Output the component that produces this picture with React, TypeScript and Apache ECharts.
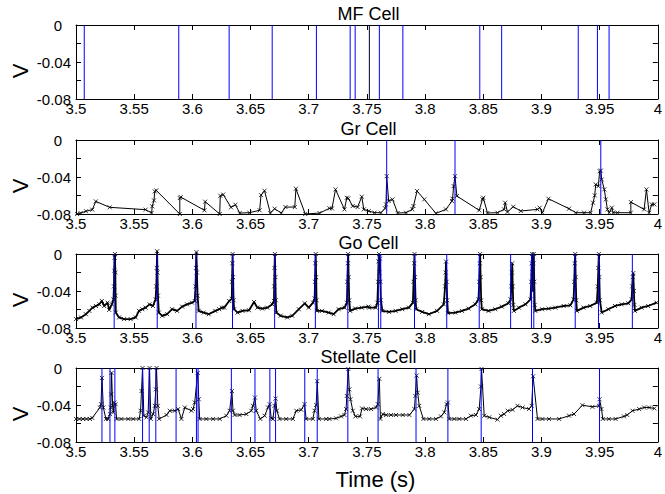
import React, { useEffect, useRef } from "react";
import * as echarts from "echarts";

const panelTitles = ["MF Cell", "Gr Cell", "Go Cell", "Stellate Cell"];

const mfSpikes = [3.5071, 3.5883, 3.6316, 3.6686, 3.7066, 3.7356, 3.7399, 3.7607, 3.7809, 3.847, 3.8658, 3.9316, 3.9481, 3.9581];
const mfBlackSpikes = [3.7521];

const grSpikes = [3.767, 3.8257, 3.951];
const grTrace: [number, number][] = [
  [3.501,-0.08],[3.504,-0.079],[3.5086,-0.077],[3.514,-0.0753],[3.517,-0.0664],[3.529,-0.0728],[3.5598,-0.0753],[3.565,-0.0789],[3.5655,-0.0717],[3.567,-0.0653],[3.5677,-0.0556],[3.569,-0.0545],[3.5892,-0.08],[3.5892,-0.0628],[3.59,-0.0617],[3.6104,-0.076],[3.611,-0.0667],[3.6235,-0.08],[3.624,-0.0603],[3.6265,-0.059],[3.6332,-0.0728],[3.637,-0.07],[3.6407,-0.079],[3.649,-0.0786],[3.6578,-0.076],[3.659,-0.0596],[3.662,-0.0549],[3.667,-0.079],[3.6707,-0.0743],[3.6764,-0.079],[3.68,-0.0725],[3.688,-0.0725],[3.689,-0.0527],[3.697,-0.08],[3.7093,-0.079],[3.7178,-0.0739],[3.72,-0.074],[3.723,-0.0534],[3.7307,-0.075],[3.7327,-0.0624],[3.734,-0.0631],[3.7378,-0.0714],[3.742,-0.0725],[3.7456,-0.0613],[3.7473,-0.075],[3.7516,-0.0768],[3.7565,-0.0786],[3.7621,-0.0786],[3.7656,-0.0739],[3.7664,-0.0696],[3.767,-0.0391],[3.7687,-0.066],[3.772,-0.0642],[3.7764,-0.0789],[3.7836,-0.0786],[3.789,-0.075],[3.79,-0.0714],[3.7931,-0.0552],[3.7993,-0.0642],[3.8093,-0.0793],[3.8179,-0.075],[3.8231,-0.066],[3.8236,-0.0635],[3.8245,-0.0499],[3.8257,-0.0391],[3.8273,-0.0606],[3.8465,-0.076],[3.8493,-0.0642],[3.85,-0.0624],[3.8536,-0.0789],[3.8622,-0.0786],[3.8679,-0.075],[3.8688,-0.0678],[3.8708,-0.0778],[3.8757,-0.0721],[3.8822,-0.0768],[3.8965,-0.075],[3.8985,-0.0732],[3.9008,-0.0786],[3.906,-0.0635],[3.9237,-0.0743],[3.9295,-0.0786],[3.9366,-0.0786],[3.9423,-0.0786],[3.9443,-0.0678],[3.9458,-0.0599],[3.9466,-0.0481],[3.9489,-0.0499],[3.95,-0.0337],[3.951,-0.033],[3.9518,-0.0427],[3.954,-0.0534],[3.9553,-0.0642],[3.9567,-0.075],[3.9582,-0.0786],[3.9605,-0.0732],[3.9616,-0.0786],[3.9653,-0.0786],[3.9768,-0.0786],[3.9768,-0.0671],[3.9882,-0.075],[3.9902,-0.0534],[3.9925,-0.0786],[3.9948,-0.0696],[3.997,-0.0696]
];

const goSpikes = [3.5328, 3.5698, 3.6031, 3.6345, 3.6707, 3.7057, 3.7336, 3.7599, 3.7619, 3.7909, 3.8186, 3.8465, 3.8735, 3.8914, 3.8934, 3.929, 3.949, 3.9781];
const goTrace: [number, number][] = [
  [3.5,-0.0704],[3.5043,-0.0686],[3.5085,-0.0651],[3.5114,-0.0615],[3.5142,-0.058],[3.5171,-0.0562],[3.52,-0.0544],[3.5222,-0.0508],[3.5242,-0.0562],[3.5271,-0.0526],[3.5285,-0.0604],[3.5308,-0.0544],[3.5322,-0.0491],
  [3.5326,-0.035],[3.5329,-0.018],[3.5332,-0.004],[3.5335,0],[3.5338,-0.02],[3.534,-0.045],
  [3.5342,-0.0633],[3.537,-0.0686],[3.5413,-0.0704],[3.547,-0.0704],[3.5513,-0.0686],[3.5541,-0.0615],[3.557,-0.0597],[3.5598,-0.058],[3.5632,-0.0544],[3.5661,-0.0562],[3.5684,-0.0491],
  [3.569,-0.035],[3.5694,-0.015],[3.5697,0.003],[3.57,-0.02],[3.5704,-0.045],
  [3.5712,-0.0633],[3.5741,-0.0668],[3.5783,-0.0651],[3.5826,-0.0597],[3.5869,-0.0615],[3.5912,-0.0569],[3.5954,-0.0544],[3.5997,-0.0526],[3.602,-0.0508],
  [3.6027,-0.035],[3.6031,-0.015],[3.6035,0.002],[3.6039,-0.02],[3.6045,-0.045],
  [3.6054,-0.0615],[3.6097,-0.0633],[3.614,-0.0651],[3.6197,-0.0615],[3.6231,-0.0597],[3.6254,-0.058],[3.6274,-0.058],[3.6316,-0.0508],[3.6339,-0.0484],
  [3.6341,-0.03],[3.6344,-0.01],[3.6346,0],[3.635,-0.025],[3.6354,-0.05],
  [3.6359,-0.0597],[3.6388,-0.0633],[3.643,-0.0615],[3.6487,-0.0608],[3.653,-0.0519],[3.6559,-0.058],[3.6601,-0.059],[3.6644,-0.058],[3.6687,-0.0544],[3.6701,-0.0508],
  [3.6703,-0.035],[3.6706,-0.015],[3.6709,0],[3.6713,-0.025],[3.6717,-0.05],
  [3.6721,-0.0633],[3.6758,-0.0668],[3.6815,-0.0686],[3.6858,-0.0668],[3.6915,-0.0597],[3.6966,-0.0533],[3.7,-0.058],[3.7037,-0.0526],[3.7051,-0.048],
  [3.7054,-0.03],[3.7057,-0.01],[3.706,0],[3.7064,-0.025],[3.7067,-0.05],
  [3.7071,-0.0615],[3.7114,-0.0615],[3.7171,-0.0633],[3.7214,-0.0651],[3.7257,-0.0597],[3.7308,-0.058],[3.7328,-0.0526],
  [3.7332,-0.03],[3.7336,-0.01],[3.7339,0],[3.7343,-0.025],[3.7348,-0.05],
  [3.7356,-0.0615],[3.7399,-0.059],[3.7456,-0.058],[3.7513,-0.0569],[3.7519,-0.058],[3.7576,-0.058],[3.759,-0.0526],
  [3.7596,-0.03],[3.76,-0.008],[3.7604,0],[3.7608,-0.02],[3.7612,-0.005],[3.7616,-0.03],[3.762,-0.05],
  [3.7633,-0.0615],[3.769,-0.0626],[3.7747,-0.0615],[3.7804,-0.0597],[3.7861,-0.058],[3.7895,-0.0526],
  [3.7901,-0.03],[3.7906,-0.01],[3.7909,0],[3.7913,-0.025],[3.7918,-0.05],
  [3.7924,-0.0597],[3.7975,-0.0626],[3.8032,-0.0651],[3.8103,-0.0615],[3.816,-0.0544],
  [3.8172,-0.035],[3.8177,-0.02],[3.818,-0.0082],[3.8185,-0.03],[3.819,-0.05],
  [3.8197,-0.064],[3.826,-0.0633],[3.8317,-0.0615],[3.8374,-0.059],[3.8431,-0.0544],[3.8459,-0.049],
  [3.8465,-0.03],[3.847,-0.01],[3.8473,0],[3.8477,-0.025],[3.8482,-0.05],
  [3.8488,-0.0597],[3.8545,-0.0615],[3.8602,-0.0597],[3.8659,-0.0569],[3.8716,-0.0533],[3.8735,-0.0491],
  [3.8741,-0.035],[3.8746,-0.02],[3.8749,-0.01],[3.8753,-0.035],[3.8758,-0.055],
  [3.8763,-0.0615],[3.8806,-0.058],[3.8863,-0.0544],[3.8906,-0.0491],
  [3.8912,-0.03],[3.8916,-0.01],[3.892,0],[3.8924,-0.02],[3.8928,-0.04],[3.8931,-0.01],[3.8934,0],[3.8938,-0.03],[3.8942,-0.055],
  [3.8948,-0.0615],[3.9005,-0.0597],[3.9062,-0.059],[3.9119,-0.058],[3.9191,-0.0562],[3.9248,-0.0555],[3.9276,-0.049],
  [3.9282,-0.03],[3.9286,-0.01],[3.929,0],[3.9294,-0.025],[3.9299,-0.05],
  [3.9305,-0.0615],[3.9362,-0.058],[3.9419,-0.0562],[3.9476,-0.0526],
  [3.9484,-0.035],[3.9489,-0.015],[3.9493,0],[3.9497,-0.025],[3.9502,-0.05],
  [3.9518,-0.0633],[3.9575,-0.0597],[3.9632,-0.0562],[3.9689,-0.0544],[3.9746,-0.0533],[3.9775,-0.049],
  [3.978,-0.035],[3.9785,-0.025],[3.9789,-0.0206],[3.9794,-0.04],[3.9799,-0.055],
  [3.9803,-0.0615],[3.986,-0.058],[3.9917,-0.0562],[3.9989,-0.0526]
];

const stSpikes = [3.5223, 3.5292, 3.5334, 3.5572, 3.5629, 3.5686, 3.586, 3.6035, 3.6049, 3.6335, 3.6538, 3.6666, 3.6715, 3.6966, 3.7073, 3.7336, 3.7596, 3.7922, 3.8196, 3.8482, 3.8923, 3.9499];
const stTrace: [number, number][] = [
  [3.5,-0.0551],[3.503,-0.0551],[3.506,-0.0551],[3.509,-0.0551],[3.512,-0.0551],[3.514,-0.054],[3.5206,-0.0427],[3.5215,-0.0391],[3.5223,-0.0107],[3.5235,-0.0427],[3.5257,-0.0551],[3.5275,-0.0551],[3.5292,-0.0498],[3.5298,-0.0427],[3.5302,-0.0284],[3.5306,-0.0053],[3.5315,-0.0409],[3.532,-0.048],[3.5329,-0.0373],[3.534,-0.0391],[3.5349,-0.0551],[3.539,-0.0551],[3.5449,-0.0551],[3.5492,-0.0551],[3.5543,-0.0551],[3.5555,-0.0462],[3.5563,-0.0249],[3.5572,0],[3.5583,-0.0516],[3.5606,-0.0533],[3.562,-0.048],[3.5632,0],[3.5643,-0.0551],[3.5663,-0.0498],[3.5677,-0.0409],[3.5686,-0.0231],[3.5692,0],[3.5703,-0.0409],[3.5715,-0.0551],[3.5778,-0.0508],[3.5806,-0.0462],[3.5849,-0.0462],[3.5878,-0.0444],[3.5906,-0.0551],[3.5935,-0.0427],[3.5992,-0.0462],[3.6006,-0.0444],[3.602,-0.0373],[3.6046,-0.0053],[3.6055,-0.0338],[3.6063,-0.0551],[3.612,-0.0551],[3.6178,-0.0551],[3.6235,-0.0551],[3.6292,-0.0516],[3.632,-0.0462],[3.634,-0.0249],[3.6349,-0.0462],[3.6363,-0.0508],[3.6406,-0.0508],[3.6464,-0.0498],[3.6507,-0.0462],[3.6521,-0.0409],[3.6538,-0.032],[3.6549,-0.0462],[3.6584,-0.0551],[3.6621,-0.0516],[3.665,-0.0427],[3.6664,-0.0391],[3.6678,-0.0544],[3.6692,-0.0551],[3.6706,-0.0409],[3.6715,-0.0331],[3.6726,-0.0462],[3.6749,-0.0551],[3.6806,-0.0551],[3.6864,-0.0551],[3.6893,-0.0462],[3.6936,-0.0452],[3.6964,-0.0391],[3.6978,-0.0551],[3.7035,-0.0551],[3.705,-0.0462],[3.7064,-0.04],[3.7073,-0.0142],[3.7087,-0.0551],[3.715,-0.0551],[3.7178,-0.0551],[3.7235,-0.0544],[3.7278,-0.0523],[3.7307,-0.0508],[3.7321,-0.0444],[3.7327,-0.0302],[3.734,-0.001],[3.7349,-0.0231],[3.7359,-0.0338],[3.7379,-0.0462],[3.7401,-0.0523],[3.7441,-0.0523],[3.7458,-0.0437],[3.7493,-0.0444],[3.7536,-0.0444],[3.7579,-0.0427],[3.7593,-0.0391],[3.7607,-0.0117],[3.7616,-0.0551],[3.7636,-0.0498],[3.7665,-0.0508],[3.7707,-0.0508],[3.775,-0.0508],[3.7808,-0.0508],[3.7865,-0.0508],[3.7908,-0.0444],[3.7916,-0.0302],[3.7927,-0.0082],[3.7936,-0.0267],[3.795,-0.0409],[3.7985,-0.0551],[3.8036,-0.0551],[3.8093,-0.0551],[3.8136,-0.0523],[3.8165,-0.048],[3.8185,-0.0391],[3.8196,-0.0373],[3.8208,-0.0551],[3.8251,-0.0551],[3.8294,-0.0551],[3.8351,-0.0551],[3.8394,-0.0516],[3.8437,-0.0508],[3.8465,-0.0444],[3.848,-0.02],[3.8485,-0.001],[3.8508,-0.0516],[3.8551,-0.0533],[3.8622,-0.0558],[3.8651,-0.0516],[3.8679,-0.0498],[3.871,-0.0462],[3.8751,-0.0452],[3.8794,-0.0409],[3.8837,-0.0427],[3.8893,-0.0444],[3.8916,-0.0409],[3.8928,-0.0089],[3.8966,-0.0551],[3.9008,-0.0551],[3.9065,-0.0551],[3.9152,-0.0551],[3.9237,-0.0516],[3.928,-0.0498],[3.9352,-0.0402],[3.9438,-0.042],[3.9495,-0.0409],[3.9499,-0.0338],[3.9516,-0.0444],[3.9527,-0.0551],[3.9579,-0.0551],[3.9637,-0.0551],[3.9709,-0.0523],[3.9737,-0.0508],[3.9782,-0.0462],[3.984,-0.0444],[3.9882,-0.0427],[3.9925,-0.0427],[3.997,-0.0437]
];

const X_MIN = 3.5, X_MAX = 4, X_STEP = 0.05;
const Y_MIN = -0.08, Y_MAX = 0, Y_STEP = 0.02;
const yLabelValues = [0, -0.04, -0.08];
const xLabel = "Time (s)";
const yLabel = "V";

const FONT = "'Liberation Sans', Arial, Helvetica, sans-serif";
const PANEL_TOPS = [25, 140, 254, 368];
const PANEL_H = 74;
const LEFT = 76;
const RIGHT = 4;
const CROSS = "path://M0,0L10,10M10,0L0,10";
const BLUE = "#0000ff";

export default function App() {
  const ref = useRef<HTMLDivElement>(null);
  useEffect(() => {
    document.body.style.margin = "0";
    if (!ref.current) return;
    const chart = echarts.init(ref.current, null, { renderer: "svg" });

    const grids = PANEL_TOPS.map((top) => ({ left: LEFT, right: RIGHT, top, height: PANEL_H, show: false }));
    const tickStyle = { show: true, inside: true, length: 5, lineStyle: { color: "#000", width: 1 } };
    const lineStyle = { show: true, onZero: false, lineStyle: { color: "#000", width: 1 } };
    const xAxes: any[] = [];
    const yAxes: any[] = [];
    PANEL_TOPS.forEach((_, i) => {
      const xBase = { gridIndex: i, type: "value", min: X_MIN, max: X_MAX, interval: X_STEP, axisLine: lineStyle, axisTick: tickStyle, splitLine: { show: false } };
      xAxes.push({
        ...xBase,
        position: "bottom",
        axisLabel: {
          show: true, color: "#000", fontSize: 15, fontFamily: FONT, margin: 2,
          showMinLabel: true, showMaxLabel: true,
          formatter: (v: number) => String(+v.toFixed(2)),
        },
      });
      xAxes.push({ ...xBase, position: "top", axisLabel: { show: false } });
      const yBase = { gridIndex: i, type: "value", min: Y_MIN, max: Y_MAX, interval: Y_STEP, axisLine: lineStyle, axisTick: tickStyle, splitLine: { show: false } };
      yAxes.push({
        ...yBase,
        position: "left",
        axisLabel: {
          show: true, color: "#000", fontSize: 15, fontFamily: FONT, margin: 5,
          showMinLabel: true, showMaxLabel: true,
          formatter: (v: number) => {
            const r = Math.round(v * 100) / 100;
            if (!yLabelValues.some((l) => Math.abs(l - r) < 1e-9)) return "";
            if (r === 0) return "{z|0}";
            return r.toFixed(2);
          },
          rich: { z: { fontSize: 15, fontFamily: FONT, color: "#000", padding: [0, 9, 0, 0] } },
        },
      });
      yAxes.push({ ...yBase, position: "right", axisLabel: { show: false } });
    });

    const spikeSeries = (i: number, spikes: number[], color: string) => ({
      type: "line",
      xAxisIndex: 2 * i,
      yAxisIndex: 2 * i,
      data: spikes.flatMap((t) => [[t, Y_MIN], [t, Y_MAX], [t, "-"]]),
      connectNulls: false,
      showSymbol: false,
      symbol: "none",
      silent: true,
      lineStyle: { color, width: 1 },
      z: 3,
    });

    const traceSeries = (i: number, data: [number, number][], width: number, clip = true) => ({
      type: "line",
      xAxisIndex: 2 * i,
      yAxisIndex: 2 * i,
      data,
      clip,
      symbol: CROSS,
      symbolSize: 4,
      showSymbol: true,
      silent: true,
      lineStyle: { color: "#000", width },
      itemStyle: { color: "#000", borderColor: "#000", borderWidth: 0.8 },
      z: 2,
    });

    const series: any[] = [
      spikeSeries(0, mfSpikes, BLUE),
      spikeSeries(0, mfBlackSpikes, "#000022"),
      traceSeries(1, grTrace, 1),
      spikeSeries(1, grSpikes, BLUE),
      traceSeries(2, goTrace, 1.8, false),
      spikeSeries(2, goSpikes, BLUE),
      traceSeries(3, stTrace, 1),
      spikeSeries(3, stSpikes, BLUE),
    ];

    const centerX = LEFT + (665 - LEFT - RIGHT) / 2;
    const graphic: any[] = [];
    PANEL_TOPS.forEach((top, i) => {
      graphic.push({
        type: "text",
        x: centerX,
        y: top - 11,
        style: { text: panelTitles[i], fontSize: 18, fontFamily: FONT, fill: "#000", textAlign: "center", textVerticalAlign: "middle" },
      });
      graphic.push({
        type: "text",
        x: 20,
        y: top + PANEL_H / 2 + 9,
        rotation: Math.PI / 2,
        style: { text: yLabel, fontSize: 22, fontFamily: FONT, fill: "#000", textAlign: "center", textVerticalAlign: "middle" },
      });
    });
    graphic.push({
      type: "text",
      x: centerX + 7,
      y: 479,
      style: { text: xLabel, fontSize: 22, fontFamily: FONT, fill: "#000", textAlign: "center", textVerticalAlign: "middle" },
    });

    chart.setOption({
      animation: false,
      backgroundColor: "#fff",
      grid: grids,
      xAxis: xAxes,
      yAxis: yAxes,
      series,
      graphic,
    });
    return () => chart.dispose();
  }, []);
  return <div ref={ref} style={{ width: 665, height: 494 }} />;
}
